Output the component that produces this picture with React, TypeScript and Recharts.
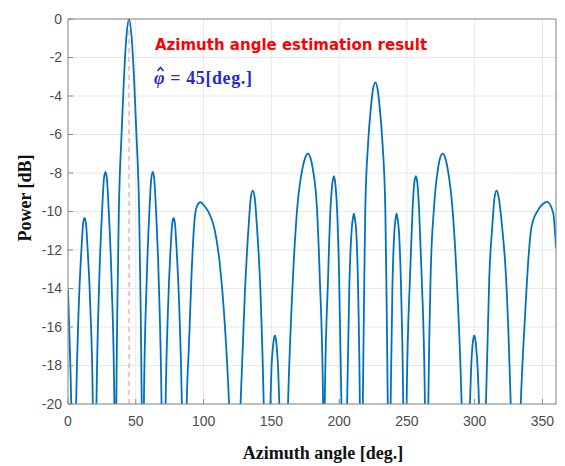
import React from "react";
import { LineChart, Line, XAxis, YAxis, CartesianGrid, ReferenceLine } from "recharts";

// azimuth samples (deg) (nulls dip below the -20 dB floor)
const angleDeg = [
  0, 1.0, 2.4, 4.2,
  6.0, 7.9, 10.05, 11.15, 12.2, 13.25, 14.35, 16.5, 18.3, 19.6,
  21.0, 23.0, 25.3, 26.5, 27.6, 28.7, 29.9, 32.2, 34.2, 34.9,
  35.6, 36.4, 37.5, 39.5, 41.2, 43, 45, 47, 48.8, 50.5, 52.5, 53.6, 54.4, 55.2,
  56.0, 58.0, 60.2, 61.4, 62.5, 63.6, 64.8, 67.0, 69.0, 70.4,
  72.0, 73.8, 75.8, 76.9, 77.9, 78.9, 80.0, 82.1, 84.0, 85.8,
  87.6, 89.2, 91.0, 93.4, 95.1, 97.6, 100.8, 104.0, 108.2, 111.9, 115.1, 118.8, 123.0,
  127.3, 130.5, 133.4, 134.9, 136.3, 137.7, 139.2, 142.0, 144.4, 146.8,
  149.3, 150.1, 151.3, 152.05, 152.6, 153.15, 153.9, 155.0, 155.9, 159.1,
  162.3, 166.0, 169.0, 173.0, 175.0, 177.1, 178.8, 180.5, 183.7, 185.7, 188.2, 188.8,
  189.4, 191.9, 193.6, 195.05, 196.1, 197.15, 198.5, 200.0, 201.7, 203.8,
  205.9, 207.5, 209.2, 210.1, 210.9, 211.7, 212.6, 214.0, 215.3, 216.3,
  217.5, 218.4, 219.3, 221.4, 223.3, 225.0, 226.7, 228.4, 230.1, 232.0, 234.1, 235.0, 235.9, 236.9,
  238.0, 239.3, 240.8, 241.6, 242.4, 243.2, 244.1, 245.7, 247.3, 248.5,
  249.8, 252.3, 254.2, 255.45, 256.6, 257.75, 259.0, 260.9, 263.3, 264.5,
  265.8, 267.5, 269.9, 273.0, 274.6, 276.4, 278.2, 280.0, 283.7, 286.7, 290.4, 293.5,
  296.5, 297.4, 298.4, 299.15, 299.7, 300.25, 301.0, 302.2, 303.2, 305.8,
  308.3, 310.8, 313.0, 314.7, 316.2, 317.7, 320.2, 323.1, 326.6, 330.0,
  334.0, 337.4, 339.6, 342.0, 347.0, 350.5, 353.6, 358.0, 360,
];

// power (dB) at each sample above
const powerDb = [
  -14.06, -16.3, -20, -30,
  -20, -15.0, -11.8, -10.62, -10.33, -10.62, -11.8, -15.0, -20, -30,
  -20, -13.7, -9.75, -8.3, -7.94, -8.3, -9.75, -13.7, -20, -30,
  -20, -15, -10, -6, -3.2, -1, 0, -1, -3.2, -6, -10, -15, -20, -30,
  -20, -13.7, -9.75, -8.3, -7.94, -8.3, -9.75, -13.7, -20, -30,
  -20, -15.0, -11.8, -10.62, -10.33, -10.62, -11.8, -15.0, -20, -30,
  -20, -17.0, -13.5, -10.4, -9.73, -9.52, -9.73, -10.07, -10.94, -12.67, -15.25, -20, -30,
  -20, -14.2, -10.6, -9.25, -8.92, -9.25, -10.6, -14.2, -20, -30,
  -20, -18.15, -16.97, -16.55, -16.44, -16.55, -16.97, -18.15, -20, -30,
  -20, -13.36, -9.9, -7.75, -7.2, -6.99, -7.2, -7.75, -9.9, -13.36, -20, -30,
  -20, -13.36, -9.9, -8.53, -8.17, -8.53, -9.9, -13.36, -20, -30,
  -20, -14.0, -11.0, -10.4, -10.11, -10.4, -11.0, -14.0, -20, -30,
  -20, -14.5, -9.9, -6.44, -4.71, -3.65, -3.29, -3.65, -4.71, -6.44, -9.9, -14.5, -20, -30,
  -20, -14.0, -11.0, -10.4, -10.11, -10.4, -11.0, -14.0, -20, -30,
  -20, -13.36, -9.9, -8.53, -8.17, -8.53, -9.9, -13.36, -20, -30,
  -20, -13.36, -9.9, -7.75, -7.2, -6.99, -7.2, -7.75, -9.9, -13.36, -20, -30,
  -20, -18.15, -16.97, -16.55, -16.44, -16.55, -16.97, -18.15, -20, -30,
  -20, -13.36, -10.77, -9.25, -8.92, -9.25, -10.77, -13.36, -20, -30,
  -20, -15.1, -12.5, -10.77, -9.9, -9.6, -9.5, -10.1, -11.9,
];

const xTicks = [0, 50, 100, 150, 200, 250, 300, 350];
const yTicks = [-20, -18, -16, -14, -12, -10, -8, -6, -4, -2, 0];
const estimatedAngle = 45;

const data = angleDeg.map((angle, i) => ({ angle, power: powerDb[i] }));

const boxColor = "#8a8a8a";
const tickFont = { fill: "#4d4d4d", fontSize: 14, fontFamily: "'Liberation Sans', Arial, sans-serif" };
const serif = "'Liberation Serif', 'Times New Roman', serif";
const blue = "#2a2ac8";

export default function App() {
  return (
    <div style={{ position: "absolute", left: 0, top: 0, width: 565, height: 466, background: "#fff" }}>
      <LineChart width={565} height={466} data={data} margin={{ top: 18, right: 8, bottom: 0, left: 0 }}>
        <CartesianGrid stroke="#e8e8e8" />
        <XAxis
          type="number"
          dataKey="angle"
          domain={[0, 360]}
          ticks={xTicks}
          interval={0}
          allowDataOverflow
          height={62}
          stroke={boxColor}
          tickSize={-5}
          tickMargin={17}
          tick={tickFont}
        />
        <XAxis
          xAxisId="top"
          orientation="top"
          type="number"
          domain={[0, 360]}
          ticks={xTicks}
          interval={0}
          allowDataOverflow
          height={1}
          stroke={boxColor}
          tickSize={-5}
          tick={false}
        />
        <YAxis
          type="number"
          domain={[-20, 0]}
          ticks={yTicks}
          interval={0}
          allowDataOverflow
          width={68}
          stroke={boxColor}
          tickSize={-5}
          tickMargin={11}
          tick={tickFont}
        />
        <YAxis
          yAxisId="right"
          orientation="right"
          type="number"
          domain={[-20, 0]}
          ticks={yTicks}
          interval={0}
          allowDataOverflow
          width={1}
          stroke={boxColor}
          tickSize={-5}
          tick={false}
        />
        <ReferenceLine x={estimatedAngle} stroke="#f08c8c" strokeDasharray="5 4" />
        <Line
          type="monotone"
          dataKey="power"
          stroke="#0072bd"
          strokeWidth={1.8}
          dot={false}
          isAnimationActive={false}
        />
      </LineChart>
      <svg width={565} height={466} style={{ position: "absolute", left: 0, top: 0, pointerEvents: "none" }}>
        <text x={323} y={459} textAnchor="middle" fontFamily={serif} fontWeight="bold" fontSize={18} fill="#111">
          Azimuth angle [deg.]
        </text>
        <text transform="translate(31,198) rotate(-90)" textAnchor="middle" fontFamily={serif} fontWeight="bold" fontSize={18} fill="#111">
          Power [dB]
        </text>
        <text x={155} y={50} fontFamily="'DejaVu Sans', sans-serif" fontWeight="bold" fontSize={15} fill="#ff0000">
          Azimuth angle estimation result
        </text>
        <text x={154} y={84} fontFamily={serif} fontWeight="bold" fontSize={18} letterSpacing={0.6} fill={blue}>
          <tspan fontStyle="italic">φ</tspan> = 45[deg.]
        </text>
        {/* hat over phi */}
        <path d="M157.5,71 L160.5,67.5 L163.5,71" fill="none" stroke={blue} strokeWidth={1.6} />
      </svg>
    </div>
  );
}
